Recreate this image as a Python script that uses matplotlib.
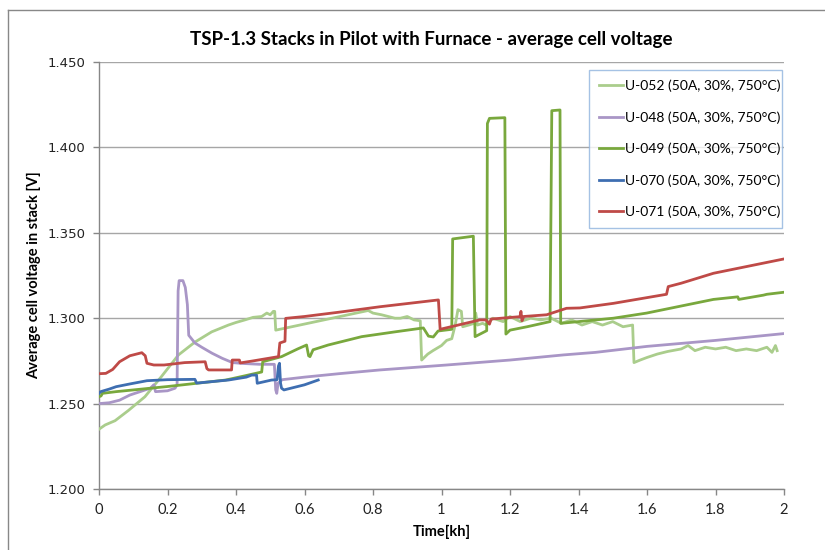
import matplotlib
matplotlib.use("Agg")
import matplotlib.pyplot as plt
from matplotlib.lines import Line2D

plt.rcParams['font.family'] = ['Lato', 'DejaVu Sans']

labels = ["U-052 (50A, 30%, 750°C)", "U-048 (50A, 30%, 750°C)", "U-049 (50A, 30%, 750°C)",
          "U-070 (50A, 30%, 750°C)", "U-071 (50A, 30%, 750°C)"]
colors = ["#aacd8c", "#a996c6", "#79a83d", "#3e6eb1", "#bf4a47"]

u052_x = [0.000, 0.018, 0.047, 0.086, 0.134, 0.183, 0.232, 0.280, 0.329, 0.378, 0.400, 0.426, 0.450,
          0.475, 0.490, 0.500, 0.509, 0.513, 0.516, 0.786, 0.800, 0.825, 0.864, 0.880, 0.900, 0.920,
          0.938, 0.942, 0.960, 0.975, 1.000, 1.015, 1.030, 1.040, 1.048, 1.058, 1.062, 1.080, 1.095,
          1.100, 1.105, 1.120, 1.130, 1.150, 1.180, 1.200, 1.230, 1.260, 1.290, 1.320, 1.350, 1.380,
          1.410, 1.440, 1.470, 1.500, 1.530, 1.558, 1.562, 1.580, 1.600, 1.630, 1.660, 1.700, 1.720,
          1.740, 1.770, 1.800, 1.830, 1.860, 1.890, 1.920, 1.950, 1.965, 1.975, 1.980]
u052_y = [1.235, 1.2375, 1.240, 1.246, 1.254, 1.266, 1.2785, 1.286, 1.292, 1.296, 1.2975, 1.299, 1.3005,
          1.301, 1.303, 1.302, 1.304, 1.304, 1.293, 1.3045, 1.303, 1.302, 1.300, 1.300, 1.301, 1.299,
          1.2985, 1.2755, 1.279, 1.281, 1.284, 1.287, 1.288, 1.296, 1.305, 1.304, 1.295, 1.296, 1.297,
          1.303, 1.296, 1.297, 1.296, 1.300, 1.298, 1.301, 1.298, 1.300, 1.299, 1.300, 1.297, 1.299,
          1.296, 1.298, 1.296, 1.298, 1.295, 1.296, 1.274, 1.2755, 1.277, 1.279, 1.2805, 1.282, 1.284,
          1.281, 1.283, 1.282, 1.283, 1.281, 1.282, 1.281, 1.283, 1.280, 1.284, 1.281]

u048_x = [0.000, 0.030, 0.060, 0.090, 0.120, 0.150, 0.160, 0.165, 0.200, 0.222, 0.228, 0.231, 0.234,
          0.245, 0.252, 0.258, 0.262, 0.280, 0.300, 0.330, 0.360, 0.390, 0.420, 0.470, 0.512, 0.516,
          0.519, 0.523, 0.535, 0.600, 0.700, 0.820, 1.015, 1.200, 1.356, 1.450, 1.600, 1.800, 2.000]
u048_y = [1.250, 1.2505, 1.252, 1.255, 1.257, 1.259, 1.261, 1.257, 1.2575, 1.259, 1.261, 1.316, 1.322,
          1.322, 1.318, 1.308, 1.290, 1.2855, 1.283, 1.2795, 1.2765, 1.274, 1.2735, 1.273, 1.273, 1.258,
          1.256, 1.262, 1.264, 1.2655, 1.2675, 1.2697, 1.2726, 1.2755, 1.2785, 1.280, 1.2835, 1.287, 1.291]

u049_x = [0.000, 0.006, 0.010, 0.050, 0.100, 0.200, 0.290, 0.370, 0.420, 0.475, 0.478, 0.533, 0.580,
          0.606, 0.612, 0.616, 0.625, 0.669, 0.767, 0.864, 0.947, 0.962, 0.976, 0.990, 1.030, 1.0326,
          1.093, 1.098, 1.132, 1.134, 1.140, 1.185, 1.188, 1.200, 1.250, 1.317, 1.322, 1.346, 1.348,
          1.400, 1.502, 1.599, 1.794, 1.865, 1.868, 1.940, 1.950, 2.000]
u049_y = [1.254, 1.2545, 1.256, 1.257, 1.258, 1.260, 1.262, 1.2638, 1.266, 1.2685, 1.2745, 1.2775, 1.282,
          1.2843, 1.278, 1.2775, 1.2815, 1.2843, 1.2892, 1.292, 1.2943, 1.2895, 1.289, 1.2925, 1.2935, 1.3464,
          1.348, 1.2892, 1.2927, 1.414, 1.417, 1.4174, 1.2907, 1.293, 1.295, 1.298, 1.4215, 1.4219, 1.297,
          1.298, 1.300, 1.303, 1.311, 1.3125, 1.311, 1.3135, 1.314, 1.3152]

u070_x = [0.000, 0.005, 0.030, 0.050, 0.090, 0.140, 0.200, 0.280, 0.285, 0.378, 0.430, 0.446, 0.460,
          0.462, 0.504, 0.520, 0.524, 0.527, 0.530, 0.533, 0.540, 0.600, 0.640]
u070_y = [1.256, 1.257, 1.2585, 1.2599, 1.2615, 1.2634, 1.264, 1.2642, 1.262, 1.2638, 1.2655, 1.2667, 1.2667,
          1.2619, 1.2638, 1.264, 1.272, 1.2736, 1.262, 1.259, 1.258, 1.261, 1.2638]

u071_x = [0.000, 0.020, 0.040, 0.060, 0.090, 0.125, 0.135, 0.140, 0.160, 0.190, 0.250, 0.310, 0.315,
          0.320, 0.387, 0.389, 0.410, 0.412, 0.450, 0.524, 0.528, 0.543, 0.545, 0.600, 0.700, 0.820,
          0.991, 0.996, 1.112, 1.130, 1.140, 1.145, 1.229, 1.232, 1.235, 1.240, 1.307, 1.365, 1.404,
          1.502, 1.657, 1.662, 1.700, 1.794, 2.000]
u071_y = [1.2675, 1.2677, 1.270, 1.2745, 1.278, 1.2798, 1.278, 1.2736, 1.2726, 1.2726, 1.274, 1.2745, 1.2705,
          1.2697, 1.2697, 1.2755, 1.2755, 1.2738, 1.275, 1.2775, 1.2855, 1.2865, 1.2999, 1.301, 1.3035, 1.3067,
          1.3107, 1.2935, 1.299, 1.299, 1.2965, 1.2995, 1.3009, 1.304, 1.2985, 1.301, 1.302, 1.3058, 1.306,
          1.3087, 1.314, 1.3185, 1.3205, 1.3263, 1.3347]

x_ticks = [0, 0.2, 0.4, 0.6, 0.8, 1.0, 1.2, 1.4, 1.6, 1.8, 2.0]
x_ticklabels = ["0", "0.2", "0.4", "0.6", "0.8", "1", "1.2", "1.4", "1.6", "1.8", "2"]
y_ticks = [1.200, 1.250, 1.300, 1.350, 1.400, 1.450]
y_ticklabels = ["1.200", "1.250", "1.300", "1.350", "1.400", "1.450"]

series = [(u052_x, u052_y), (u048_x, u048_y), (u049_x, u049_y), (u070_x, u070_y), (u071_x, u071_y)]

fig = plt.figure(figsize=(8.25, 5.5), dpi=100)
ax = fig.add_axes([99/825, 1-489/550, (784-99)/825, (489-62)/550])

axis_grey = "#878787"
for (xs, ys), c, lab in zip(series, colors, labels):
    ax.plot(xs, ys, color=c, lw=2.0, label=lab, solid_joinstyle='round', zorder=3)

ax.set_xlim(0, 2)
ax.set_ylim(1.2, 1.45)
ax.set_xticks(x_ticks)
ax.set_xticklabels(x_ticklabels, fontsize=10.5, color="#222222")
ax.set_yticks(y_ticks)
ax.set_yticklabels(y_ticklabels, fontsize=9.5, color="#222222", family="DejaVu Sans")
ax.grid(axis='y', color="#a6a6a6", lw=1.0)
ax.set_axisbelow(True)
for s in ["top", "right"]:
    ax.spines[s].set_visible(False)
for s in ["left", "bottom"]:
    ax.spines[s].set_color(axis_grey)
    ax.spines[s].set_linewidth(1.0)
ax.tick_params(axis='both', direction='out', length=4, color=axis_grey, width=1.0)
ax.tick_params(axis='x', pad=6)
ax.tick_params(axis='y', pad=6)

ax.set_xlabel("Time[kh]", fontsize=10.5, fontweight='bold', labelpad=6)
ax.set_ylabel("Average cell voltage in stack [V]", fontsize=10.5, fontweight='bold', labelpad=4)
fig.text(431/825, 1-40/550, "TSP-1.3 Stacks in Pilot with Furnace - average cell voltage",
         ha='center', va='center', fontsize=13.5, fontweight='bold')

lx0 = (589-99)/685
ly0 = (489-230)/427
lw_ = (782-589)/685
lh_ = (230-70)/427
leg = ax.legend(loc='upper left', bbox_to_anchor=(lx0, ly0, lw_, lh_),
                mode='expand', fontsize=10, frameon=True, fancybox=False, handlelength=1.75,
                handletextpad=0.15, labelspacing=1.36, borderpad=0.7, borderaxespad=0)
leg.get_frame().set_edgecolor("#8fb3de")
leg.get_frame().set_linewidth(1.0)
for h in leg.get_lines():
    h.set_linewidth(2.0)

# outer chart border (partially visible frame)
fig.add_artist(Line2D([8/825, 8/825], [0, 1-10/550], color="#888888", lw=1.0, transform=fig.transFigure))
fig.add_artist(Line2D([8/825, 1], [1-10/550, 1-10/550], color="#888888", lw=1.0, transform=fig.transFigure))

fig.savefig("out.png", dpi=100, facecolor="white")
